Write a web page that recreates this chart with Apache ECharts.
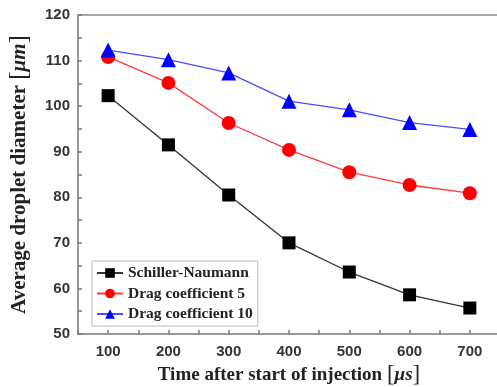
<!DOCTYPE html>
<html>
<head>
<meta charset="utf-8">
<script src="https://cdn.jsdelivr.net/npm/echarts@6/dist/echarts.min.js"></script>
<style>
html,body{margin:0;padding:0;background:#fff;}
#chart{width:497px;height:387px;}
</style>
</head>
<body>
<div id="chart"></div>
<script>
// Data
const times = [100, 200, 300, 400, 500, 600, 700];
const schillerNaumann = [102.3, 91.5, 80.5, 70.0, 63.6, 58.6, 55.7];
const dragCoef5 = [110.8, 105.1, 96.3, 90.4, 85.5, 82.7, 80.9];
const dragCoef10 = [112.3, 110.2, 107.3, 101.1, 99.2, 96.4, 94.9];
const seriesNames = ['Schiller-Naumann', 'Drag coefficient 5', 'Drag coefficient 10'];
const xTitle = 'Time after start of injection ';
const yTitle = 'Average droplet diameter ';

const pairs = arr => times.map((t, i) => [t, arr[i]]);

const chart = echarts.init(document.getElementById('chart'), null, {renderer: 'canvas'});
const axisLineStyle = {color: '#7a7a7a', width: 1.5};
const tickLabel = {fontFamily: 'Liberation Sans', fontWeight: 'bold', fontSize: 15, color: '#333'};
const mkTitle = (size) => ({
  fontFamily: 'Liberation Serif', fontWeight: 'bold', fontSize: size, color: '#222',
  rich: {
    i: {fontFamily: 'Liberation Serif', fontStyle: 'italic', fontWeight: 'bold', fontSize: size, color: '#222'},
    b: {fontFamily: 'Liberation Serif', fontWeight: 'normal', fontSize: size + 4, color: '#222'}
  }
});

chart.setOption({
  animation: false,
  backgroundColor: '#fff',
  grid: {left: 78, top: 15, right: -3, bottom: 53, containLabel: false, outerBoundsMode: 'none'},
  legend: {
    orient: 'vertical', left: 92, top: 261,
    padding: [4, 5, 4, 4], itemGap: 4.5, itemWidth: 26, itemHeight: 12,
    backgroundColor: '#fff', borderColor: '#bbb', borderWidth: 1,
    textStyle: {fontFamily: 'Liberation Serif', fontWeight: 'bold', fontSize: 15.5, color: '#222', lineHeight: 15},
    data: seriesNames
  },
  xAxis: [{
    type: 'value', min: 50, max: 750, interval: 50,
    axisLine: {show: true, lineStyle: axisLineStyle},
    axisTick: {show: true, inside: true, length: 4, lineStyle: axisLineStyle},
    splitLine: {show: false},
    axisLabel: Object.assign({margin: 10, formatter: v => (v % 100 === 0 ? String(v) : '')}, tickLabel),
    name: xTitle + '{b|[}{i|μs}{b|]}',
    nameLocation: 'middle', nameGap: 28,
    nameTextStyle: mkTitle(19)
  }, {
    type: 'value', position: 'top', min: 50, max: 750, interval: 50,
    axisLine: {show: true, onZero: false, lineStyle: {color: '#8a8a8a', width: 1.5}},
    axisTick: {show: false}, axisLabel: {show: false}, splitLine: {show: false}
  }],
  yAxis: {
    type: 'value', min: 50, max: 120, interval: 5,
    axisLine: {show: true, lineStyle: axisLineStyle},
    axisTick: {show: true, inside: true, length: 4, lineStyle: axisLineStyle},
    splitLine: {show: false},
    axisLabel: Object.assign({margin: 8, formatter: v => (v % 10 === 0 ? String(v) : '')}, tickLabel),
    name: yTitle + '{b|[}{i|μm}{b|]}',
    nameLocation: 'middle', nameGap: 46,
    nameTextStyle: mkTitle(21)
  },
  series: [
    {name: seriesNames[0], type: 'line', data: pairs(schillerNaumann), symbol: 'rect', symbolSize: 13,
     itemStyle: {color: '#000'}, lineStyle: {color: '#333', width: 1.3}},
    {name: seriesNames[1], type: 'line', data: pairs(dragCoef5), symbol: 'circle', symbolSize: 14,
     itemStyle: {color: '#ff0000'}, lineStyle: {color: '#ff3b3b', width: 1.3}},
    {name: seriesNames[2], type: 'line', data: pairs(dragCoef10), symbol: 'triangle', symbolSize: 15,
     itemStyle: {color: '#0000ff'}, lineStyle: {color: '#4a4aff', width: 1.3}}
  ]
});
</script>
</body>
</html>
